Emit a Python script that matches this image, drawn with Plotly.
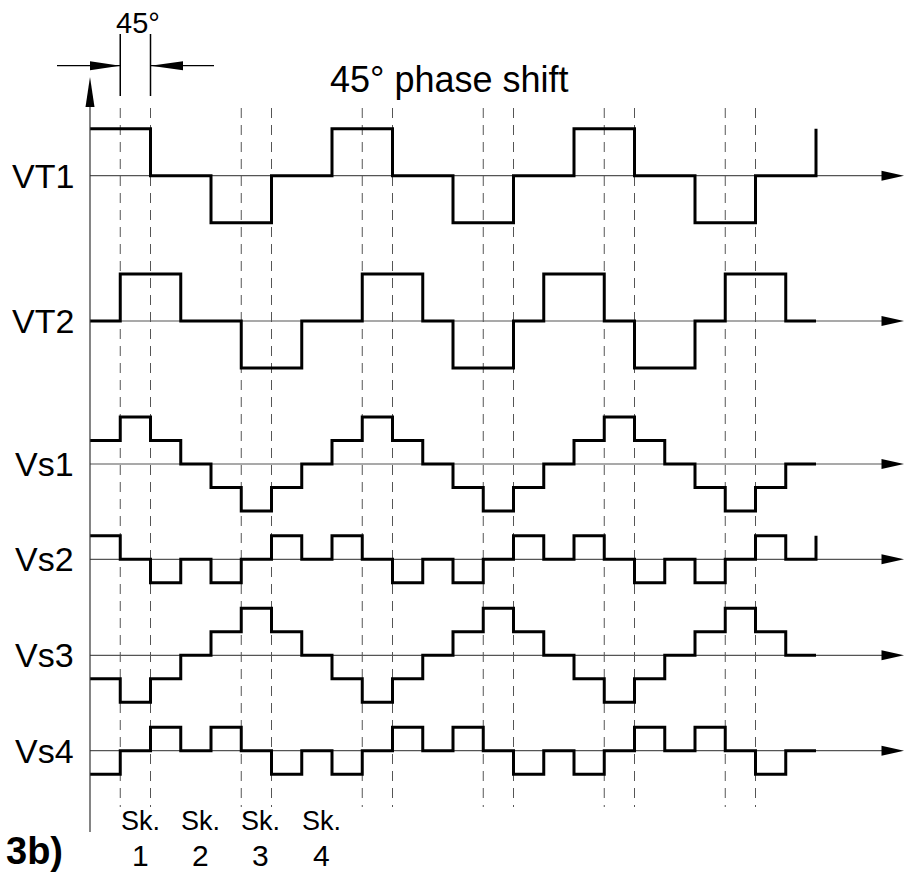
import plotly.graph_objects as go

# ---------------- data ----------------
slot_edges = list(range(25))          # 45-degree time slots 0..24
signal_names = ["VT1", "VT2", "Vs1", "Vs2", "Vs3", "Vs4"]

vt1 = [1, 1, 0, 0, -1, -1, 0, 0, 1, 1, 0, 0, -1, -1, 0, 0, 1, 1, 0, 0, -1, -1, 0, 0]
vt2 = [0, 1, 1, 0, 0, -1, -1, 0, 0, 1, 1, 0, -1, -1, 0, 1, 1, 0, -1, -1, 0, 1, 1, 0]
vs1 = [1, 2, 1, 0, -1, -2, -1, 0, 1, 2, 1, 0, -1, -2, -1, 0, 1, 2, 1, 0, -1, -2, -1, 0]
vs2 = [1, 0, -1, 0, -1, 0, 1, 0, 1, 0, -1, 0, -1, 0, 1, 0, 1, 0, -1, 0, -1, 0, 1, 0]
vs3 = [-1, -2, -1, 0, 1, 2, 1, 0, -1, -2, -1, 0, 1, 2, 1, 0, -1, -2, -1, 0, 1, 2, 1, 0]
vs4 = [-1, 0, 1, 0, 1, 0, -1, 0, -1, 0, 1, 0, 1, 0, -1, 0, -1, 0, 1, 0, 1, 0, -1, 0]
signals = [vt1, vt2, vs1, vs2, vs3, vs4]
end_stroke = [1, None, None, 1, None, None]   # final vertical stroke level

dashed_slots = [1, 2, 5, 6, 9, 10, 13, 14, 17, 18, 21, 22]
shift_label = "45° phase shift"
dim_label = "45°"
switch_labels = ["Sk.", "Sk.", "Sk.", "Sk."]
switch_numbers = ["1", "2", "3", "4"]
figure_label = "3b)"

# ---------------- layout / style ----------------
W, H = 904, 873
X0, DX = 90.0, 30.25                  # pixel of slot 0, pixels per slot
baseline_px = [175.7, 321.0, 464.0, 559.3, 655.3, 750.7]
unit_px = [47.0, 47.0, 23.5, 23.5, 23.5, 23.5]
label_x_px = 76
switch_x_px = [140, 200, 260, 321]
GREY = "#555555"
REG = "Liberation Sans, Arial, sans-serif"


def sx(px):
    return (px - X0) / DX


fig = go.Figure()
layout_axes = {}
for i, (name, vals) in enumerate(zip(signal_names, signals)):
    xs = slot_edges[:]
    ys = vals + [vals[-1]]
    if end_stroke[i] is not None:
        xs = xs + [slot_edges[-1]]
        ys = ys + [end_stroke[i]]
    ax = "y%d" % (i + 2)
    fig.add_trace(go.Scatter(x=xs, y=ys, mode="lines", name=name,
                             line=dict(color="black", width=3, shape="hv"),
                             yaxis=ax, hoverinfo="skip"))
    b, u = baseline_px[i], unit_px[i]
    layout_axes["yaxis%d" % (i + 2)] = dict(overlaying="y", range=[(b - H) / u, b / u],
                                            visible=False, fixedrange=True)

shapes = []
# dashed slot markers
for s in dashed_slots:
    shapes.append(dict(type="line", xref="x", yref="y", x0=s, x1=s, y0=108, y1=807,
                       line=dict(color=GREY, width=1, dash="10px,7px"), layer="below"))
# baselines with arrows
for b in baseline_px:
    shapes.append(dict(type="line", xref="x", yref="y", x0=0, x1=sx(885), y0=b, y1=b,
                       line=dict(color=GREY, width=1.2), layer="below"))
    shapes.append(dict(type="path", xref="x", yref="y",
                       path="M %f,%f L %f,%f L %f,%f Z" % (sx(881.5), b - 5, sx(904), b, sx(881.5), b + 5),
                       fillcolor="black", line=dict(width=0)))
# vertical axis with arrow
shapes.append(dict(type="line", xref="x", yref="y", x0=0, x1=0, y0=832, y1=100,
                   line=dict(color="#333333", width=1.2)))
shapes.append(dict(type="path", xref="x", yref="y",
                   path="M %f,%f L %f,%f L %f,%f Z" % (sx(85.5), 107, 0, 77, sx(94.5), 107),
                   fillcolor="black", line=dict(width=0)))
# 45 degree dimension marks
for s in [1, 2]:
    shapes.append(dict(type="line", xref="x", yref="y", x0=s, x1=s, y0=34, y1=96,
                       line=dict(color="black", width=1.5)))
shapes.append(dict(type="line", xref="x", yref="y", x0=sx(57), x1=1, y0=65.7, y1=65.7,
                   line=dict(color="black", width=1.2)))
shapes.append(dict(type="line", xref="x", yref="y", x0=2, x1=sx(214), y0=65.7, y1=65.7,
                   line=dict(color="black", width=1.2)))
shapes.append(dict(type="path", xref="x", yref="y",
                   path="M %f,%f L %f,%f L %f,%f Z" % (sx(90), 61.2, 1, 65.7, sx(90), 70.2),
                   fillcolor="black", line=dict(width=0)))
shapes.append(dict(type="path", xref="x", yref="y",
                   path="M %f,%f L %f,%f L %f,%f Z" % (sx(183), 61.2, 2, 65.7, sx(183), 70.2),
                   fillcolor="black", line=dict(width=0)))

annotations = []
for name, b in zip(signal_names, baseline_px):
    annotations.append(dict(text=name, xref="paper", yref="y", x=label_x_px / W, y=b,
                            xanchor="right", yanchor="middle", showarrow=False,
                            font=dict(family=REG, size=34, color="black")))
annotations.append(dict(text=shift_label, xref="paper", yref="y", x=449 / W, y=79,
                        xanchor="center", yanchor="middle", showarrow=False,
                        font=dict(family=REG, size=36, color="black")))
annotations.append(dict(text=dim_label, xref="paper", yref="y", x=138 / W, y=23,
                        xanchor="center", yanchor="middle", showarrow=False,
                        font=dict(family=REG, size=29, color="black")))
for lab, num, xp in zip(switch_labels, switch_numbers, switch_x_px):
    annotations.append(dict(text=lab, xref="paper", yref="y", x=xp / W, y=821,
                            xanchor="center", yanchor="middle", showarrow=False,
                            font=dict(family=REG, size=27, color="black")))
    annotations.append(dict(text=num, xref="paper", yref="y", x=xp / W, y=855,
                            xanchor="center", yanchor="middle", showarrow=False,
                            font=dict(family=REG, size=30, color="black")))
annotations.append(dict(text="<b>%s</b>" % figure_label, xref="paper", yref="y", x=4 / W, y=851,
                        xanchor="left", yanchor="middle", showarrow=False,
                        font=dict(family=REG, size=38, color="black")))

fig.update_layout(
    width=W, height=H, margin=dict(l=0, r=0, t=0, b=0, pad=0),
    paper_bgcolor="white", plot_bgcolor="white", showlegend=False,
    xaxis=dict(range=[sx(0), sx(W)], visible=False, fixedrange=True),
    yaxis=dict(range=[H, 0], visible=False, fixedrange=True),
    shapes=shapes, annotations=annotations,
    **layout_axes,
)

fig.write_html("out.html", config={"displayModeBar": False},
               post_script="document.body.style.margin='0';document.body.style.overflow='hidden';")
